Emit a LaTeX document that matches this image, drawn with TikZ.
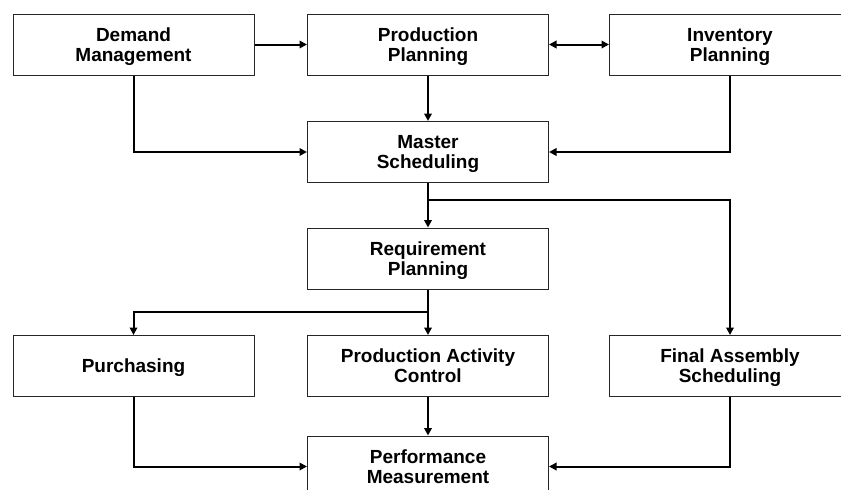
\documentclass[tikz,border=0pt]{standalone}
\usepackage{fontspec}
\setmainfont{Liberation Sans}
\usetikzlibrary{arrows.meta}
\begin{document}
\begin{tikzpicture}[x=1pt,y=-1pt,
  stepbox/.style={draw=black!85, line width=1pt, minimum width=241pt,
    minimum height=61pt, align=center, inner sep=0pt, text depth=0pt,
    font=\fontsize{19}{20}\selectfont\bfseries},
  flow/.style={line width=2pt, -{Triangle[length=7.5pt,width=7.5pt]}},
  both/.style={line width=2pt, {Triangle[length=7.5pt,width=7.5pt]}-{Triangle[length=7.5pt,width=7.5pt]}}]
\useasboundingbox (0,0) rectangle (841,490);
\clip (0,0) rectangle (841,490);
% process boxes
\node[stepbox] (dm)  at (133.5,44.5)  {Demand\\Management};
\node[stepbox] (pp)  at (428,44.5)    {Production\\Planning};
\node[stepbox] (ip)  at (730,44.5)    {Inventory\\Planning};
\node[stepbox] (ms)  at (428,152)     {Master\\Scheduling};
\node[stepbox] (rp)  at (428,258.5)   {Requirement\\Planning};
\node[stepbox] (pu)  at (133.5,366)   {Purchasing};
\node[stepbox] (pac) at (428,366)     {Production Activity\\Control};
\node[stepbox] (fa)  at (730,366)     {Final Assembly\\Scheduling};
\node[stepbox] (pm)  at (428,466.5)   {Performance\\Measurement};
% branch points
\coordinate (j1) at (428,200);
\coordinate (j2) at (428,312);
% connectors
\draw[flow] (dm.east) -- (pp.west);
\draw[both] (pp.east) -- (ip.west);
\draw[flow] (pp.south) -- (ms.north);
\draw[flow] (dm.south) |- (ms.west);
\draw[flow] (ip.south) |- (ms.east);
\draw[flow] (ms.south) -- (rp.north);
\draw[flow] (j1) -| (fa.north);
\draw[flow] (rp.south) -- (pac.north);
\draw[flow] (j2) -| (pu.north);
\draw[flow] (pac.south) -- (pm.north);
\draw[flow] (pu.south) |- (pm.west);
\draw[flow] (fa.south) |- (pm.east);
\end{tikzpicture}
\end{document}
